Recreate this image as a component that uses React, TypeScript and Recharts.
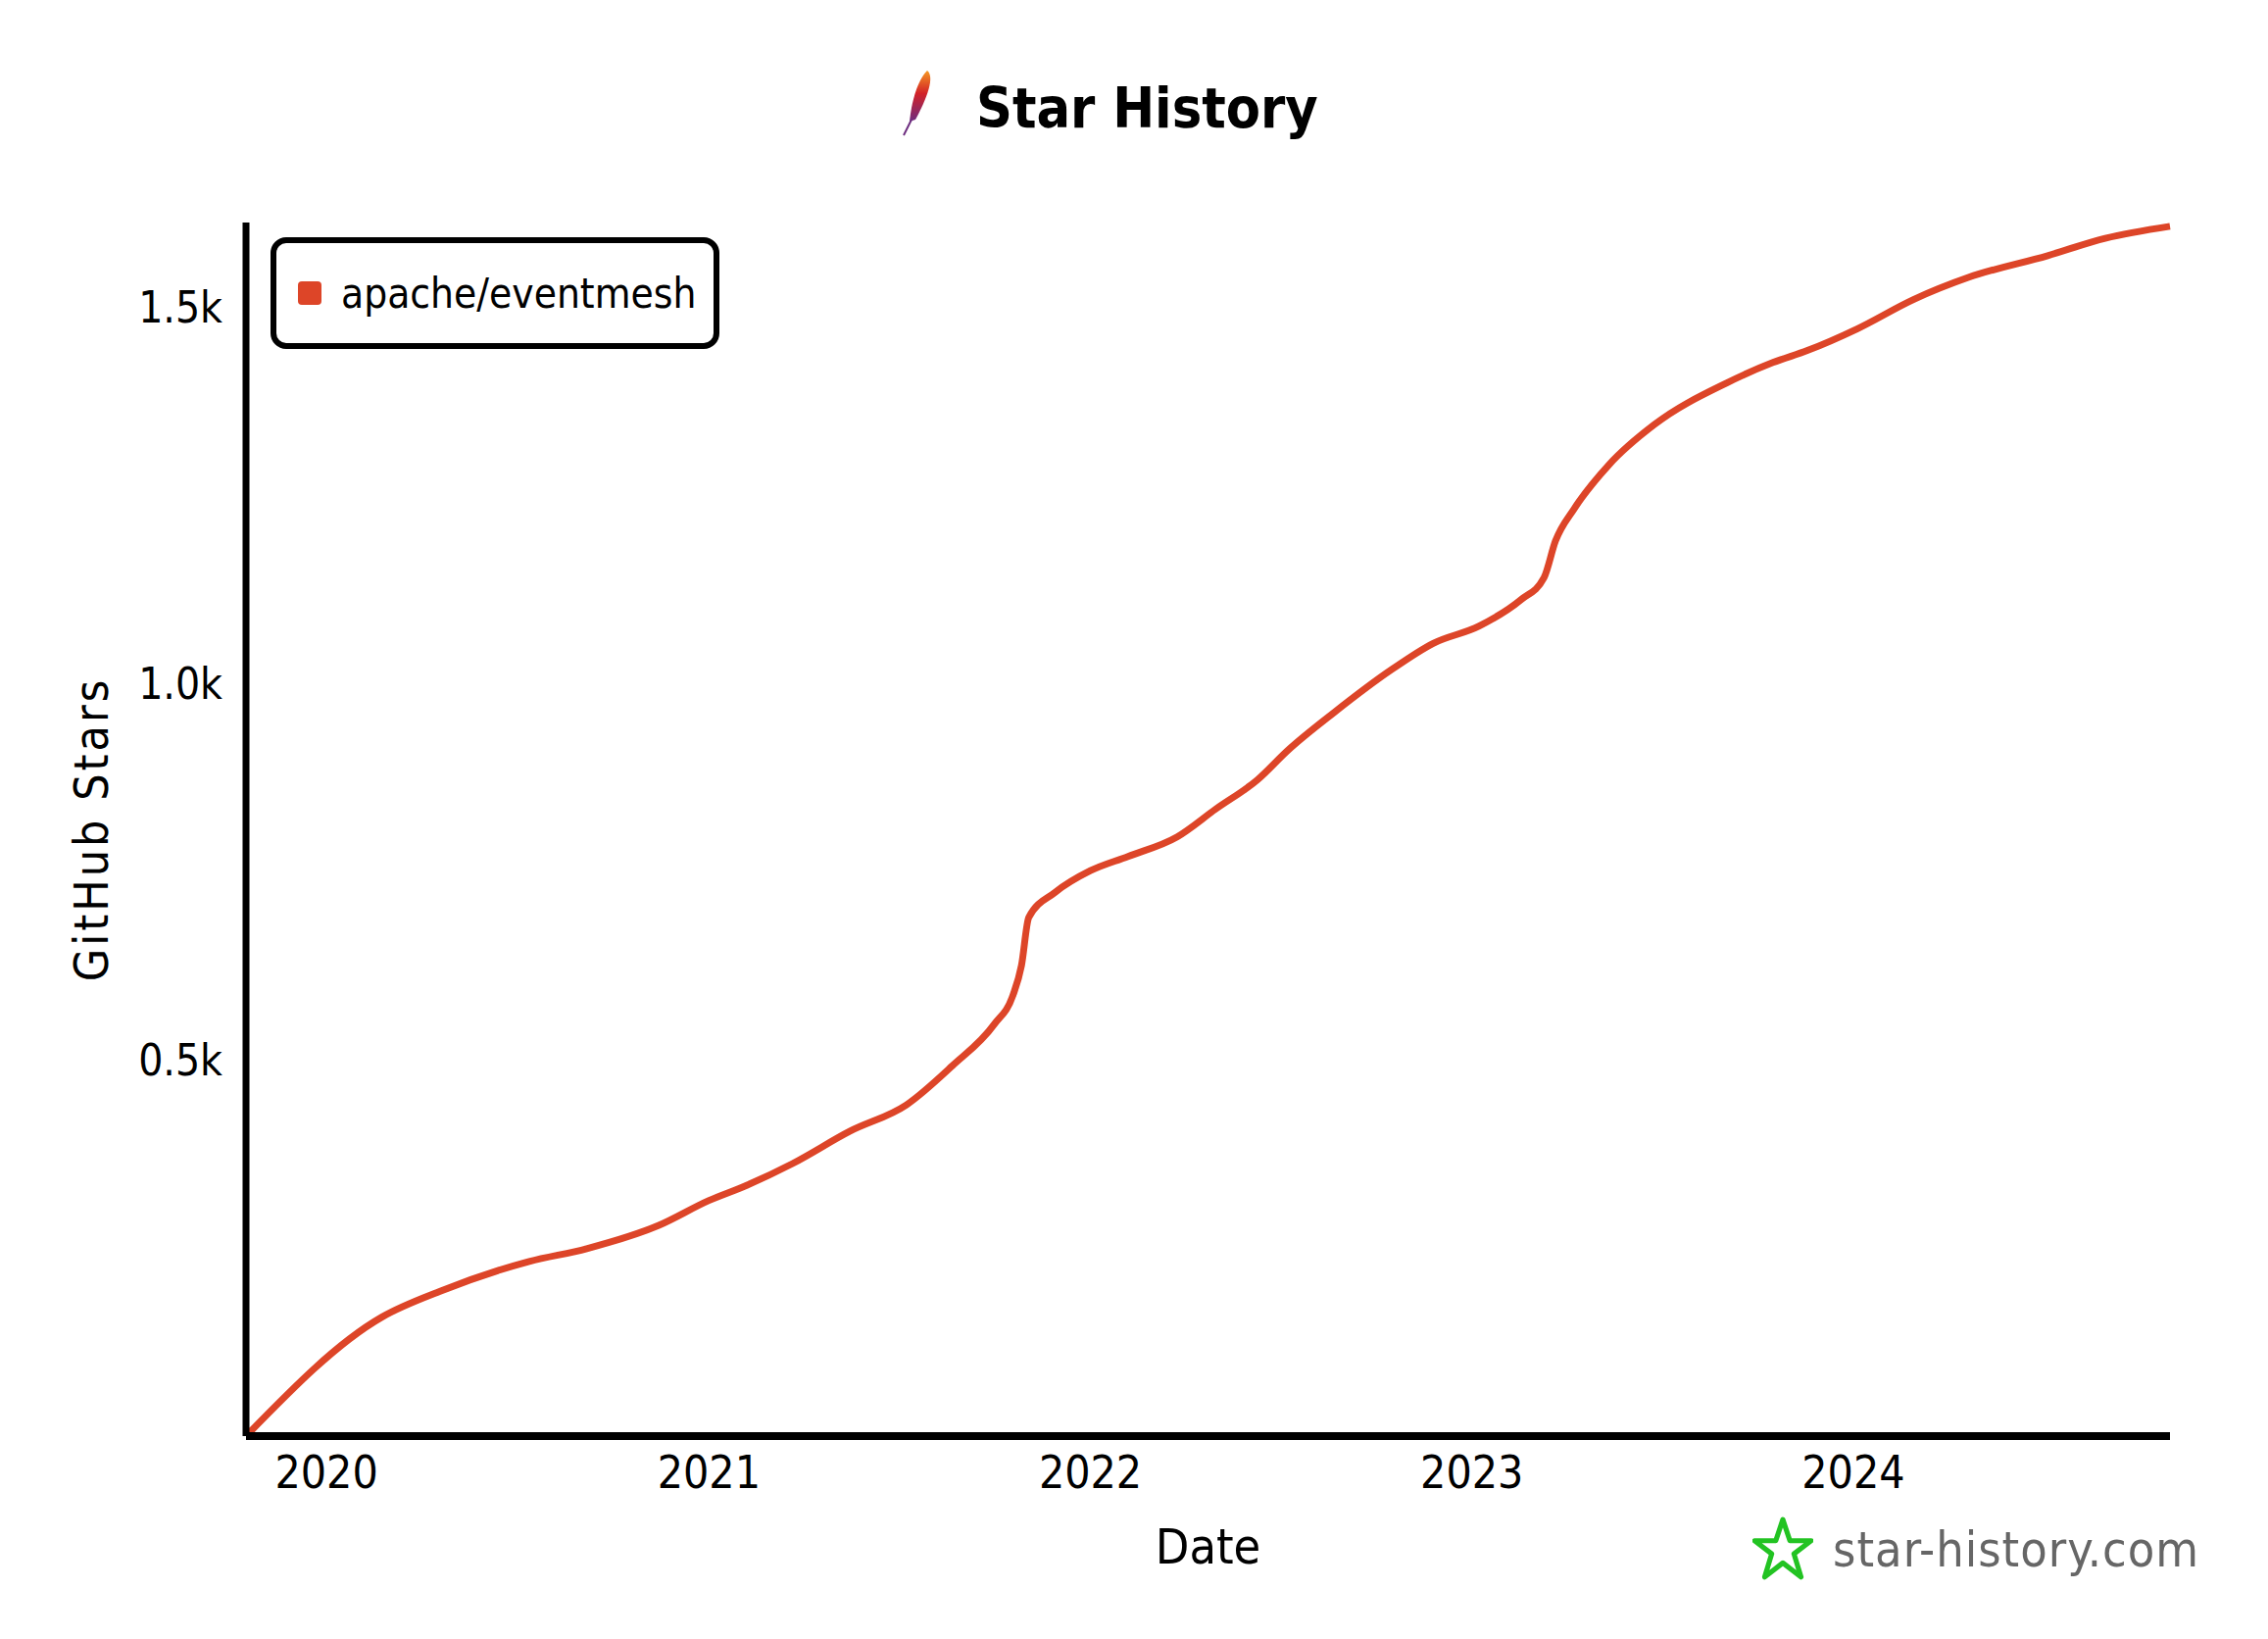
import { LineChart, Line, XAxis, YAxis } from "recharts";

const dates = [
  "2019-10-16", "2020-02-23", "2020-04-20", "2020-07-13", "2020-09-06", "2020-11-14",
  "2021-01-01", "2021-02-06", "2021-03-22", "2021-05-16", "2021-07-09", "2021-08-22",
  "2021-10-01", "2021-10-19", "2021-10-27", "2021-11-03", "2021-11-28", "2022-01-01",
  "2022-02-06", "2022-03-25", "2022-05-01", "2022-06-10", "2022-07-09", "2022-08-22",
  "2022-10-16", "2022-11-25", "2023-01-08", "2023-02-17", "2023-03-11", "2023-03-22",
  "2023-04-09", "2023-05-12", "2023-06-25", "2023-09-02", "2023-10-16", "2023-11-18",
  "2024-01-05", "2024-02-28", "2024-04-20", "2024-07-05", "2024-08-29", "2024-10-30",
];

const stars = [
  0, 158, 193, 232, 249, 280,
  313, 333, 362, 405, 440, 492,
  547, 586, 625, 689, 722, 751,
  770, 796, 833, 872, 911, 961,
  1018, 1053, 1076, 1111, 1140, 1189,
  1232, 1290, 1344, 1399, 1426, 1442,
  1471, 1510, 1539, 1568, 1591, 1607,
];

const yearTicks = ["2020", "2021", "2022", "2023", "2024"];
const starTicks = [500, 1000, 1500];
const repoName = "apache/eventmesh";

const FONT = "'DejaVu Sans Condensed', 'Liberation Sans Narrow', 'DejaVu Sans', sans-serif";
const RED = "#dd4528";

const toTime = (d: string) => new Date(d + "T00:00:00Z").getTime();

const data = dates.map((d, i) => ({ t: toTime(d), stars: stars[i] }));
const xTicks = yearTicks.map((y) => toTime(y + "-01-01"));

function fmtStars(v: number) {
  return (v / 1000).toFixed(1) + "k";
}

function Feather() {
  return (
    <svg width="40" height="70" viewBox="0 0 40 70" style={{ position: "absolute", left: 916, top: 70 }}>
      <defs>
        <linearGradient id="fg" x1="0" y1="0" x2="0" y2="1">
          <stop offset="0%" stopColor="#f69923" />
          <stop offset="45%" stopColor="#d22128" />
          <stop offset="100%" stopColor="#6d2d7f" />
        </linearGradient>
      </defs>
      <path d="M30 2 C38 8 30 30 18 52 L12 54 C14 34 20 12 30 2 Z" fill="url(#fg)" />
      <path d="M14 52 L6 68" stroke="#6d2d7f" strokeWidth="2" />
    </svg>
  );
}

function LegendBox() {
  return (
    <div
      style={{
        position: "absolute",
        left: 276,
        top: 242,
        width: 458,
        height: 114,
        boxSizing: "border-box",
        border: "6px solid #000",
        borderRadius: 16,
        background: "#fff",
        display: "flex",
        alignItems: "center",
        fontFamily: FONT,
        fontSize: 42,
        color: "#000",
      }}
    >
      <span style={{ width: 24, height: 24, background: RED, borderRadius: 4, marginLeft: 22, marginRight: 20 }} />
      {repoName}
    </div>
  );
}

export default function App() {
  return (
    <div style={{ position: "absolute", left: 0, top: 0, width: 2314, height: 1672, background: "#fff" }}>
      <Feather />
      <div
        style={{
          position: "absolute",
          left: 996,
          top: 74,
          fontFamily: FONT,
          fontWeight: "bold",
          fontSize: 57,
          lineHeight: "72px",
        }}
      >
        Star History
      </div>
      <LineChart
        width={2314}
        height={1672}
        data={data}
        margin={{ top: 227, right: 100, bottom: 87, left: 151 }}
      >
        <XAxis
          dataKey="t"
          type="number"
          scale="time"
          domain={[toTime("2019-10-16"), toTime("2024-10-30")]}
          ticks={xTicks}
          tickFormatter={(v) => String(new Date(v).getUTCFullYear())}
          tickLine={false}
          axisLine={{ stroke: "#000", strokeWidth: 8 }}
          tick={{ fill: "#000", fontSize: 46, fontFamily: FONT }}
          tickMargin={14}
          height={120}
          label={{ value: "Date", position: "insideBottom", offset: -10, fill: "#000", fontSize: 50, fontFamily: FONT }}
        />
        <YAxis
          type="number"
          domain={[0, 1612]}
          ticks={starTicks}
          tickFormatter={fmtStars}
          tickLine={false}
          axisLine={{ stroke: "#000", strokeWidth: 7 }}
          tick={{ fill: "#000", fontSize: 44, fontFamily: FONT }}
          tickMargin={18}
          width={100}
          label={{
            value: "GitHub Stars",
            angle: -90,
            position: "insideLeft",
            offset: -58,
            style: { textAnchor: "middle", letterSpacing: 3 },
            fill: "#000",
            fontSize: 48,
            fontFamily: FONT,
          }}
        />
        <Line
          type="monotone"
          dataKey="stars"
          name={repoName}
          stroke={RED}
          strokeWidth={7}
          dot={false}
          isAnimationActive={false}
        />
      </LineChart>
      <LegendBox />
      <div style={{ position: "absolute", left: 1788, top: 1547, display: "flex", alignItems: "center" }}>
        <svg width="62" height="68" viewBox="0 0 60 66">
          <polygon
            points="30,3 37,24 58,24 41,37 48,60 30,46 12,60 19,37 2,24 23,24"
            fill="none"
            stroke="#22c322"
            strokeWidth="5"
            strokeLinejoin="round"
          />
        </svg>
        <span style={{ marginLeft: 20, fontFamily: FONT, fontSize: 50, color: "#666", letterSpacing: 1 }}>
          star-history.com
        </span>
      </div>
    </div>
  );
}
